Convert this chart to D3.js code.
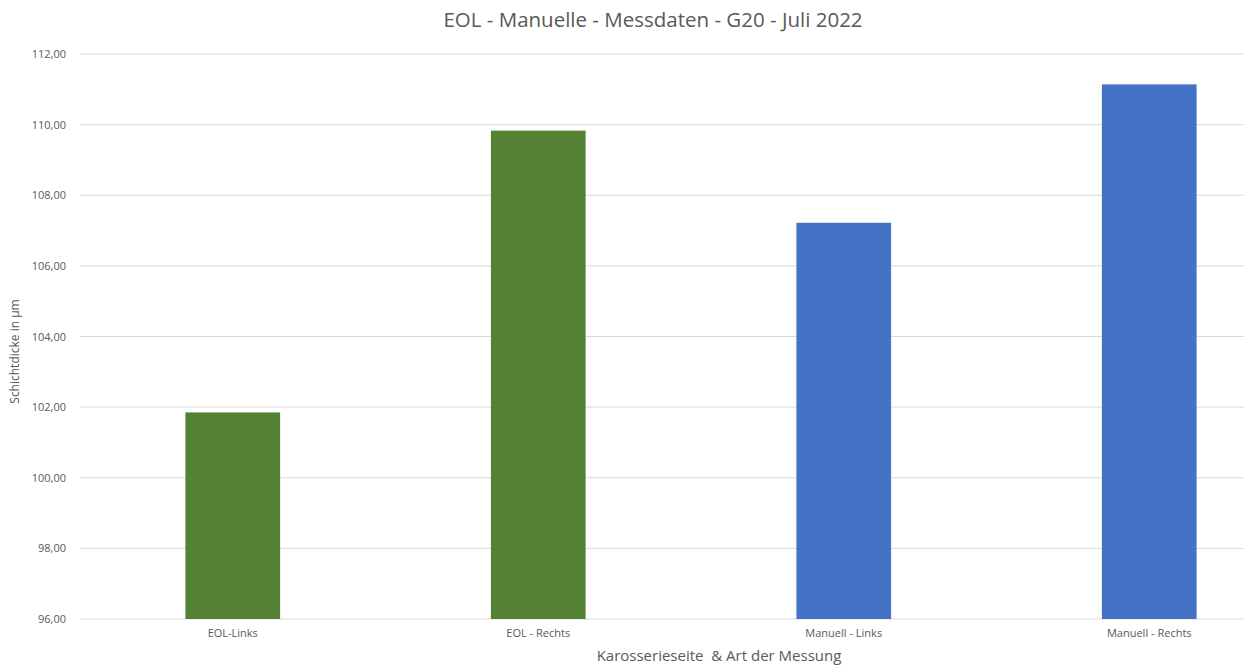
<!DOCTYPE html>
<html>
<head>
<meta charset="utf-8">
<script src="https://cdn.jsdelivr.net/npm/d3@7"></script>
<style>
  html, body { margin: 0; padding: 0; background: #fff; }
  svg { display: block; }
  text { font-family: "Open Sans", "Noto Sans", sans-serif; fill: #595959; }
</style>
</head>
<body>
<svg id="chart" width="1244" height="666"></svg>
<script>
// Schichtdicke je Karosserieseite und Messart
const categories = ["EOL-Links", "EOL - Rechts", "Manuell - Links", "Manuell - Rechts"];
const values = [101.85, 109.83, 107.22, 111.14];
const barColors = ["#548235", "#548235", "#4472C4", "#4472C4"];
const yTicks = [96, 98, 100, 102, 104, 106, 108, 110, 112];

const title = "EOL - Manuelle - Messdaten - G20 - Juli 2022";
const xTitle = "Karosserieseite  & Art der Messung";
const yTitle = "Schichtdicke in µm";

const svg = d3.select("#chart");
const W = 1244, H = 666;
const plot = { left: 80, right: 1302, top: 54, bottom: 619 };

const x = d3.scaleBand()
  .domain(categories)
  .range([plot.left, plot.right])
  .paddingInner(0.69)
  .paddingOuter(0.345);

const y = d3.scaleLinear()
  .domain([96, 112])
  .range([plot.bottom, plot.top]);

const fmt = v => v.toFixed(2).replace(".", ",");

// horizontal gridlines
svg.append("g")
  .selectAll("line")
  .data(yTicks)
  .join("line")
  .attr("x1", plot.left)
  .attr("x2", W)
  .attr("y1", d => y(d))
  .attr("y2", d => y(d))
  .attr("stroke", "#d9d9d9")
  .attr("stroke-width", 1);

// y axis labels
const yAxis = d3.axisLeft(y).tickValues(yTicks).tickFormat(fmt).tickSize(0).tickPadding(0);
const gy = svg.append("g")
  .attr("transform", `translate(${plot.left - 14},0)`)
  .call(yAxis);
gy.select(".domain").remove();
gy.selectAll("text")
  .attr("font-size", 11)
  .attr("font-family", "'Open Sans', 'Noto Sans', sans-serif")
  .attr("fill", "#595959");

// bars
svg.append("g")
  .selectAll("rect")
  .data(categories)
  .join("rect")
  .attr("x", d => x(d))
  .attr("width", x.bandwidth())
  .attr("y", (d, i) => y(values[i]))
  .attr("height", (d, i) => y(96) - y(values[i]))
  .attr("fill", (d, i) => barColors[i]);

// x axis labels
const xAxis = d3.axisBottom(x).tickSize(0).tickPadding(10);
const gx = svg.append("g")
  .attr("transform", `translate(0,${plot.bottom})`)
  .call(xAxis);
gx.select(".domain").remove();
gx.selectAll("text")
  .attr("font-size", 11)
  .attr("font-family", "'Open Sans', 'Noto Sans', sans-serif")
  .attr("fill", "#595959");

// titles
svg.append("text")
  .attr("x", 653)
  .attr("y", 27)
  .attr("text-anchor", "middle")
  .attr("font-size", 20.5)
  .text(title);

svg.append("text")
  .attr("x", 719)
  .attr("y", 661)
  .attr("text-anchor", "middle")
  .attr("font-size", 15)
  .style("white-space", "pre")
  .text(xTitle);

svg.append("text")
  .attr("transform", `translate(19,${(plot.top + plot.bottom) / 2 + 15}) rotate(-90)`)
  .attr("text-anchor", "middle")
  .attr("font-size", 12)
  .text(yTitle);
</script>
</body>
</html>
